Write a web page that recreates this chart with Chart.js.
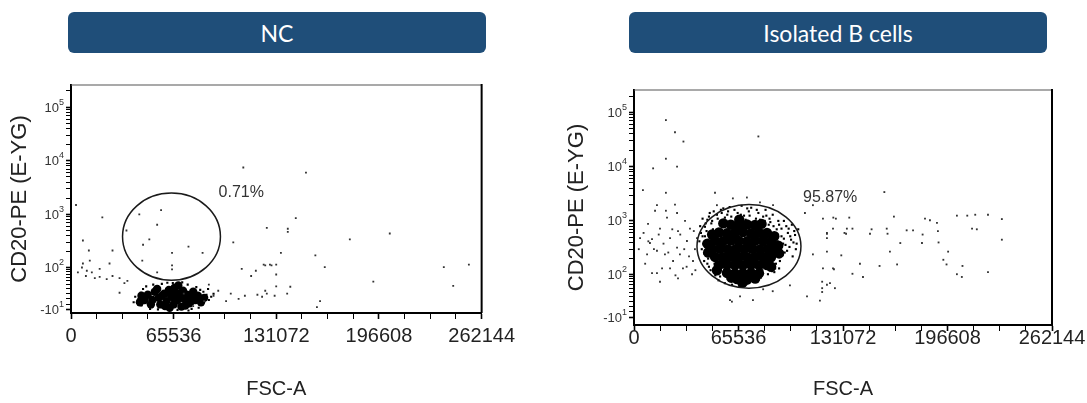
<!DOCTYPE html>
<html>
<head>
<meta charset="utf-8">
<script src="https://cdn.jsdelivr.net/npm/chart.js@4.4.0/dist/chart.umd.min.js"></script>
<style>
  body { margin: 0; background: #fff; width: 1087px; height: 403px; position: relative; overflow: hidden; }
  .banner { position: absolute; top: 12px; height: 41px; width: 418px; background: #1f4e79; border-radius: 6px;
            color: #fff; font-family: Lato, "Open Sans", sans-serif; font-size: 23px;
            display: flex; align-items: center; justify-content: center; }
  #b1 { left: 68px; }
  #b2 { left: 629px; }
  canvas { position: absolute; top: 60px; }
  #c1 { left: 0; }
  #c2 { left: 545px; }
</style>
</head>
<body>
<div class="banner" id="b1">NC</div>
<div class="banner" id="b2">Isolated B cells</div>
<canvas id="c1" width="520" height="343"></canvas>
<canvas id="c2" width="542" height="343"></canvas>
<script>
// axis labels
const fscLabels = [0, 65536, 131072, 196608, 262144];
const cd20Major = [-10, 100, 1000, 10000, 100000];
const cd20Minor = [0, 10, 20, 30, 40, 50, 60, 70, 80, 90,
  200, 300, 400, 500, 600, 700, 800, 900,
  2000, 3000, 4000, 5000, 6000, 7000, 8000, 9000,
  20000, 30000, 40000, 50000, 60000, 70000, 80000, 90000, 200000];

// NC sample: [FSC-A, CD20-PE]
const ncCore = [[49000, 18], [52000, 8], [53500, 24], [56000, 12], [57000, 0], [59500, 20], [61000, 6],
  [62500, 28], [64000, 14], [65500, 0], [67000, 22], [68000, 8], [69500, 16], [70500, -4], [71500, 26],
  [72500, 10], [74000, 18], [75500, 2], [76500, 14], [78000, 24], [79500, 8], [81000, 16], [83000, 4],
  [66000, 32], [60000, -3], [55000, 30], [51000, 0], [47000, 8], [63000, -6], [73000, -2], [85000, 12],
  [68500, 38], [45000, 16], [44000, 4], [58000, 16], [63500, 20], [66500, 10], [70000, 12], [77000, 6]];
const ncEdge = [[43000, 10], [44500, 22], [45000, -2], [46000, 30], [48000, 36], [50500, -8], [52500, 40],
  [55500, -9], [58000, 42], [61500, 45], [65000, 44], [68000, -10], [71000, 46], [74500, 40], [77000, -8],
  [80000, 34], [82500, 28], [84500, 24], [86500, 18], [88000, 8], [89500, 14], [87500, 30], [91000, 20],
  [81500, -6], [75000, -11], [62000, -10], [41000, 14], [40000, 4]];
const ncSparse = [[3200, 1500], [20000, 880], [57500, 1200], [7600, 325], [11400, 210], [26500, 210],
  [50000, 340], [55000, 640], [43600, 1000], [46000, 270], [64500, 190], [75000, 250], [84000, 190],
  [103600, 300], [125000, 560], [110000, 7500], [64500, 108], [64500, 90], [55000, 78], [45500, 134], [35400, 500],
  [7000, 98], [10100, 84], [13300, 78], [15200, 58], [18300, 62], [22800, 55], [26500, 65], [31000, 58],
  [36000, 50], [18300, 92], [24600, 118], [12000, 134], [7600, 118], [34100, 44], [31000, 22], [4400, 78], [9500, 65],
  [88000, 40], [94000, 26], [102000, 20], [111000, 16], [119000, 18], [124000, 26], [128000, 108], [124000, 108],
  [118000, 84], [115000, 65], [109000, 92], [91000, 16], [99000, 6], [107000, 10], [85000, 6], [78000, -3], [72000, 20],
  [150000, 6000], [143500, 850], [138400, 540], [138400, 470], [178000, 340], [203500, 440], [134000, 190],
  [156000, 170], [162000, 100], [123000, 112], [127000, 112], [131000, 112], [193000, 48], [238000, 100],
  [254000, 112], [244000, 37], [131000, 36], [140000, 35], [125000, 20], [122000, 14], [130000, 16],
  [138000, 20], [159000, 6], [157000, -5], [131000, 70]];
const ncGate = { fsc: [32900, 95400], cd20: [52, 2500] };
const ncPct = { text: '0.71%', at: [108700, 2500] };

// Isolated B cells sample: [FSC-A, CD20-PE]
const bCore = [[60800, 850], [65800, 830], [70900, 860], [75900, 840],
  [53300, 610], [58300, 590], [63300, 600], [68300, 620], [73400, 590], [78400, 605], [83400, 600],
  [50800, 430], [55800, 420], [60800, 435], [65800, 425], [70900, 420], [75900, 430], [80900, 425], [85900, 420],
  [48900, 300], [53900, 305], [58900, 298], [64000, 302], [69000, 300], [74000, 305], [79000, 298], [84000, 302], [88400, 300],
  [50800, 215], [55800, 212], [60800, 216], [65800, 214], [70900, 213], [75900, 215], [80900, 214], [85900, 212],
  [53300, 150], [58300, 152], [63300, 151], [68300, 150], [73400, 152], [78400, 150], [83400, 151],
  [58300, 106], [63300, 104], [68300, 105], [73400, 106], [78400, 104],
  [64600, 80], [70900, 78],
  [46000, 380], [46500, 260], [90500, 350], [91000, 250], [88000, 520], [49000, 560], [56000, 900],
  [80000, 880], [66000, 1050], [52000, 120], [86000, 140], [61000, 85], [76000, 82], [68000, 66]];
const bHalo = [[42000, 600], [43500, 380], [44000, 250], [45000, 900], [46000, 160], [47000, 1200], [47500, 480],
  [48000, 120], [49500, 700], [50000, 1500], [51000, 95], [52500, 1100], [53000, 75], [55000, 1400], [56000, 1700],
  [57000, 65], [58500, 1300], [60000, 1800], [61500, 60], [63000, 1600], [64500, 1150], [66000, 55], [67500, 1900],
  [69000, 1250], [70500, 62], [72000, 1500], [73500, 1750], [75000, 70], [76500, 1100], [78000, 1400], [79500, 85],
  [81000, 1200], [82500, 1600], [84000, 100], [85500, 950], [87000, 1300], [88500, 130], [89500, 700], [90500, 1000],
  [91500, 180], [92500, 520], [93500, 380], [94500, 260], [95500, 800], [96500, 600], [97500, 330], [98500, 450],
  [99500, 220], [101000, 550], [102000, 380], [103000, 700], [92000, 290], [90000, 420], [91000, 850], [45500, 320],
  [44500, 520], [46500, 200], [48500, 900], [47000, 140], [89000, 160], [86500, 115], [54000, 90], [58000, 1000], [83000, 1250],
  [41000, 420], [41500, 800], [43000, 1100], [44000, 180], [45500, 650], [47500, 1400], [49000, 1000], [50500, 160],
  [52000, 1300], [54500, 1600], [56500, 120], [59000, 1500], [61000, 1200], [62500, 75], [65000, 1400], [67000, 1300],
  [68500, 70], [71000, 1700], [72500, 1250], [74000, 95], [77000, 1600], [79000, 1050], [80500, 120], [82000, 1000],
  [84500, 850], [86000, 170], [87500, 800], [88000, 600], [89000, 250], [90000, 560], [92500, 720], [93000, 230],
  [94000, 470], [95000, 360], [96000, 280], [97000, 720], [98000, 520], [100000, 400], [101500, 300], [100500, 650],
  [99000, 850], [94000, 1000], [42500, 300], [43000, 520], [44500, 780], [46000, 1050], [91000, 130], [88000, 110],
  [85000, 1100], [60000, 1000], [70000, 1050], [57000, 1150]];
const bSparse = [[20000, 72000], [25700, 43000], [31000, 29000], [20000, 14000], [27000, 10000], [12000, 9300],
  [78000, 36000], [5600, 3700], [20000, 3300], [14400, 1950], [20000, 1540], [25700, 2000], [50800, 3300],
  [10000, 390], [11300, 460], [14400, 280], [16300, 720], [22600, 480], [27000, 320], [28800, 240], [33200, 425],
  [37000, 180], [35100, 720], [22600, 130], [17600, 130], [14400, 105], [11300, 105], [13200, 1540], [20700, 1150],
  [27000, 1400], [32000, 1000], [27600, 650], [19400, 240], [24500, 180], [30700, 130], [36400, 100], [8200, 240],
  [3800, 480], [8800, 880], [16300, 70], [27600, 82], [39500, 480], [38200, 300],
  [6000, 600], [9000, 420], [12500, 300], [15500, 560], [18500, 380], [21500, 260], [24000, 700], [29000, 560],
  [31500, 300], [34500, 220], [37500, 650], [3000, 300], [7000, 160], [26000, 95], [33000, 140], [38500, 120],
  [60200, 22], [61400, 19], [74600, 22], [66500, 30], [81000, 47], [87000, 42], [97800, 58],
  [107200, 1400], [112200, 1950], [118500, 1100], [121000, 480], [124800, 720], [112200, 240], [118500, 130],
  [108500, 30], [116600, 21], [121000, 60], [122900, 65], [126000, 50],
  [62000, 2600], [70800, 2700], [79000, 2200], [87200, 1950], [52000, 1950],
  [157000, 3400], [125000, 1150], [126600, 1100], [135000, 1150], [163000, 1200],
  [121000, 600], [121000, 580], [132000, 600], [133000, 580], [133500, 720], [137000, 720], [148000, 580],
  [149000, 700], [158500, 720], [159000, 580], [171000, 670], [175000, 670], [185600, 1030], [190000, 920],
  [190600, 650], [191000, 400], [197000, 270], [194000, 190], [196000, 155], [202500, 100], [205600, 88],
  [202500, 1250], [209000, 1250], [214000, 1300], [222000, 1300], [230700, 1080], [230700, 450], [222000, 110],
  [215000, 700], [212000, 720], [206000, 145], [167000, 390], [160500, 270], [165000, 155], [154000, 145],
  [141700, 160], [137000, 102], [143600, 88], [130000, 230], [124800, 130], [125400, 125], [121000, 270],
  [118000, 70], [118000, 50], [118000, 40], [181000, 560], [180600, 390], [182500, 1100]];
const bGate = { fsc: [39500, 104700], cd20: [50, 2000] };
const bPct = { text: '95.87%', at: [123000, 2700] };

// biexponential-like display transform
function bx(v) { return Math.asinh(v / 42) / Math.LN10; }
function pts(list) { return list.map(p => ({ x: p[0], y: bx(p[1]) })); }

const axisFont = '"Liberation Sans", Arial, sans-serif';

const extras = {
  id: 'extras',
  afterDraw(chart, args, o) {
    const { ctx, chartArea: a, scales: { x, y } } = chart;
    ctx.save();
    // top and right frame
    ctx.strokeStyle = '#555'; ctx.lineWidth = 1.2;
    ctx.beginPath(); ctx.moveTo(a.left, a.top); ctx.lineTo(a.right, a.top); ctx.stroke();
    ctx.strokeStyle = '#000'; ctx.lineWidth = 2;
    ctx.beginPath(); ctx.moveTo(a.right, a.top - 1); ctx.lineTo(a.right, a.bottom); ctx.stroke();

    // gate
    const g = o.gate;
    const x1 = x.getPixelForValue(g.fsc[0]), x2 = x.getPixelForValue(g.fsc[1]);
    const y1 = y.getPixelForValue(bx(g.cd20[1])), y2 = y.getPixelForValue(bx(g.cd20[0]));
    ctx.beginPath();
    ctx.ellipse((x1 + x2) / 2, (y1 + y2) / 2, (x2 - x1) / 2, (y2 - y1) / 2, 0, 0, 2 * Math.PI);
    ctx.strokeStyle = '#1a1a1a'; ctx.lineWidth = 1.5; ctx.stroke();

    // gate percentage
    ctx.fillStyle = '#333';
    ctx.font = '16px ' + axisFont;
    ctx.textAlign = 'center'; ctx.textBaseline = 'middle';
    ctx.fillText(o.pct.text, x.getPixelForValue(o.pct.at[0]), y.getPixelForValue(bx(o.pct.at[1])));

    // y tick labels with superscripts
    cd20Major.forEach(v => {
      const py = y.getPixelForValue(bx(v));
      const exp = String(Math.round(Math.log10(Math.abs(v))));
      const base = v < 0 ? '-10' : '10';
      ctx.font = '9px ' + axisFont;
      const ew = ctx.measureText(exp).width;
      const xr = a.left - 7;
      ctx.textAlign = 'left'; ctx.textBaseline = 'middle';
      ctx.fillText(exp, xr - ew, py - 5);
      ctx.font = '13px ' + axisFont;
      ctx.textAlign = 'right';
      ctx.fillText(base, xr - ew, py + 1);
    });
    ctx.restore();
  }
};

function makeChart(id, core, coreR, halo, sparse, gate, pct, box) {
  return new Chart(document.getElementById(id), {
    type: 'scatter',
    data: {
      datasets: [
        { data: pts(sparse), pointStyle: 'rect', pointRadius: 1.3, backgroundColor: '#333', borderWidth: 0 },
        { data: pts(halo), pointStyle: 'rect', pointRadius: 1.5, backgroundColor: '#000', borderWidth: 0 },
        { data: pts(core), pointRadius: coreR, backgroundColor: '#000', borderWidth: 0 }
      ]
    },
    options: {
      responsive: false,
      animation: false,
      events: [],
      layout: { padding: { left: 0, top: box.top, right: box.right, bottom: 0 } },
      plugins: { legend: { display: false }, tooltip: { enabled: false }, extras: { gate: gate, pct: pct } },
      scales: {
        x: {
          type: 'linear', min: 0, max: 262144,
          afterFit: s => { s.height = box.xh; },
          border: { display: true, color: '#000', width: 2 },
          grid: { drawOnChartArea: false, tickLength: 6, tickColor: '#000',
                  tickWidth: c => (c.tick && c.tick.value % 65536 === 0 ? 1.6 : 1) },
          ticks: {
            stepSize: 16384, autoSkip: false, maxRotation: 0, padding: box.tickPad,
            color: '#222', font: { family: axisFont, size: 20 },
            callback: v => (fscLabels.includes(v) ? String(v) : '')
          },
          title: { display: true, text: 'FSC-A', color: '#222', font: { family: axisFont, size: 20 },
                   padding: { top: 0, bottom: 2 } }
        },
        y: {
          type: 'linear', min: box.ymin, max: 4.09,
          afterFit: s => { s.width = box.yw; },
          afterBuildTicks: s => { s.ticks = cd20Major.concat(cd20Minor).map(v => ({ value: bx(v), major: cd20Major.includes(v) })); },
          border: { display: true, color: '#000', width: 2 },
          grid: { drawOnChartArea: false, tickLength: 5, tickColor: '#000',
                  tickWidth: c => (c.tick && c.tick.major ? 1.6 : 1) },
          ticks: { display: false },
          title: { display: true, text: 'CD20-PE (E-YG)', color: '#222', font: { family: axisFont, size: 22 },
                   padding: { top: box.titlePad, bottom: 0 } }
        }
      }
    },
    plugins: [extras]
  });
}

makeChart('c1', ncCore, 4.2, ncEdge, ncSparse, ncGate, ncPct,
  { top: 25, right: 34, xh: 90, yw: 71, ymin: -0.16, tickPad: 5, titlePad: 7 });
makeChart('c2', bCore, 5.2, bHalo, bSparse, bGate, bPct,
  { top: 30, right: 35, xh: 78, yw: 89, ymin: -0.24, tickPad: -5, titlePad: 19 });
</script>
</body>
</html>
